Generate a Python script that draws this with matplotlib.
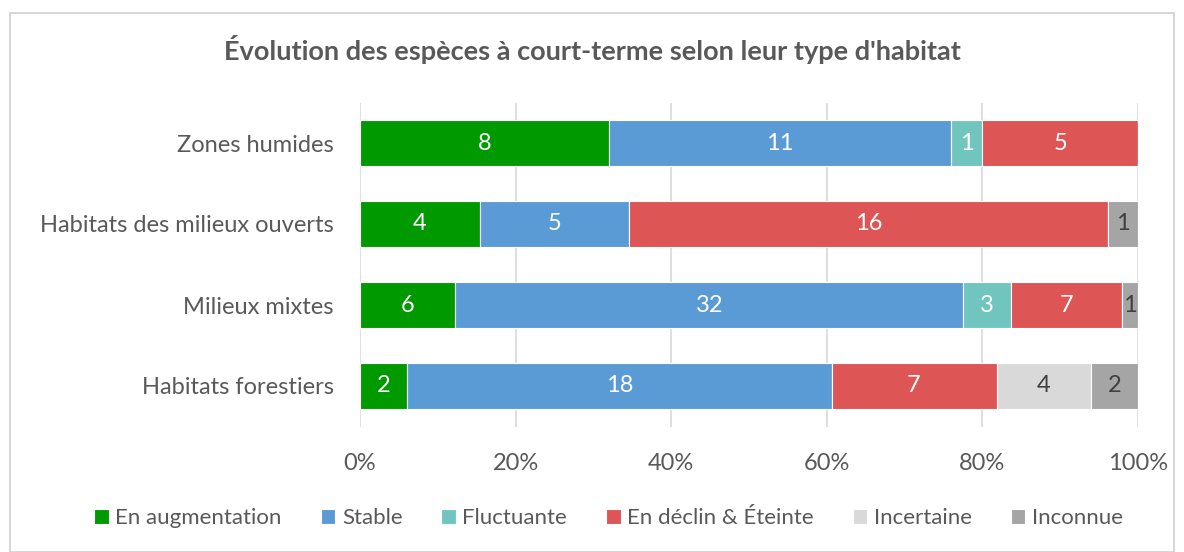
import numpy as np
import matplotlib.pyplot as plt
from matplotlib.patches import Rectangle

plt.rcParams['font.family'] = ['Lato', 'DejaVu Sans']

# Data
habitats = ["Zones humides", "Habitats des milieux ouverts", "Milieux mixtes", "Habitats forestiers"]
categories = ["En augmentation", "Stable", "Fluctuante", "En déclin & Éteinte", "Incertaine", "Inconnue"]
en_augmentation = [8, 4, 6, 2]
stable = [11, 5, 32, 18]
fluctuante = [1, 0, 3, 0]
en_declin = [5, 16, 7, 7]
incertaine = [0, 0, 0, 4]
inconnue = [0, 1, 1, 2]

colors = ["#009900", "#5B9BD5", "#70C6BE", "#DD5555", "#D9D9D9", "#A5A5A5"]
text_colors = ["white", "white", "white", "white", "#404040", "#404040"]

counts = np.array([en_augmentation, stable, fluctuante, en_declin, incertaine, inconnue], dtype=float)
totals = counts.sum(axis=0)
shares = counts / totals

fig = plt.figure(figsize=(11.84, 5.52), dpi=100)
ax = fig.add_axes([360 / 1184, 1 - 426.5 / 552, 778 / 1184, 324 / 552])

# chart border
fig.patches.append(Rectangle((10 / 1184, 0), 1164 / 1184, 1 - 13 / 552, transform=fig.transFigure,
                             fill=False, edgecolor="#D0D0D0", linewidth=1.2))

y = np.arange(len(habitats))
left = np.zeros(len(habitats))
for i, cat in enumerate(categories):
    bars = ax.barh(y, shares[i], left=left, height=0.57, color=colors[i], label=cat,
                   edgecolor="white", linewidth=0.8, zorder=3)
    for j, b in enumerate(bars):
        if counts[i, j] > 0:
            ax.text(left[j] + shares[i, j] / 2, y[j], str(int(counts[i, j])), ha="center", va="center",
                    color=text_colors[i], fontsize=17, zorder=4)
    left += shares[i]

ax.set_xlim(0, 1)
ax.set_ylim(len(habitats) - 0.5, -0.5)
ax.set_yticks(y)
ax.set_yticklabels(habitats)
ax.set_xticks(np.arange(0, 1.01, 0.2))
ax.set_xticklabels([f"{int(v * 100)}%" for v in np.arange(0, 1.01, 0.2)])
ax.tick_params(axis="both", length=0, labelsize=17, labelcolor="#595959")
ax.tick_params(axis="x", pad=19)
ax.tick_params(axis="y", pad=19)
ax.grid(axis="x", color="#D9D9D9", linewidth=1.2, zorder=0)
for s in ax.spines.values():
    s.set_visible(False)

fig.text(0.5, 1 - 50 / 552, "Évolution des espèces à court-terme selon leur type d'habitat",
         ha="center", va="center", fontsize=19.5, fontweight="bold", color="#595959")

fig.legend(loc="center", bbox_to_anchor=(0.514, 1 - 518 / 552), ncol=6, frameon=False,
           fontsize=16, labelcolor="#595959", handlelength=0.65, handleheight=0.65,
           handletextpad=0.3, columnspacing=1.75)

fig.savefig("out.png", dpi=100)
